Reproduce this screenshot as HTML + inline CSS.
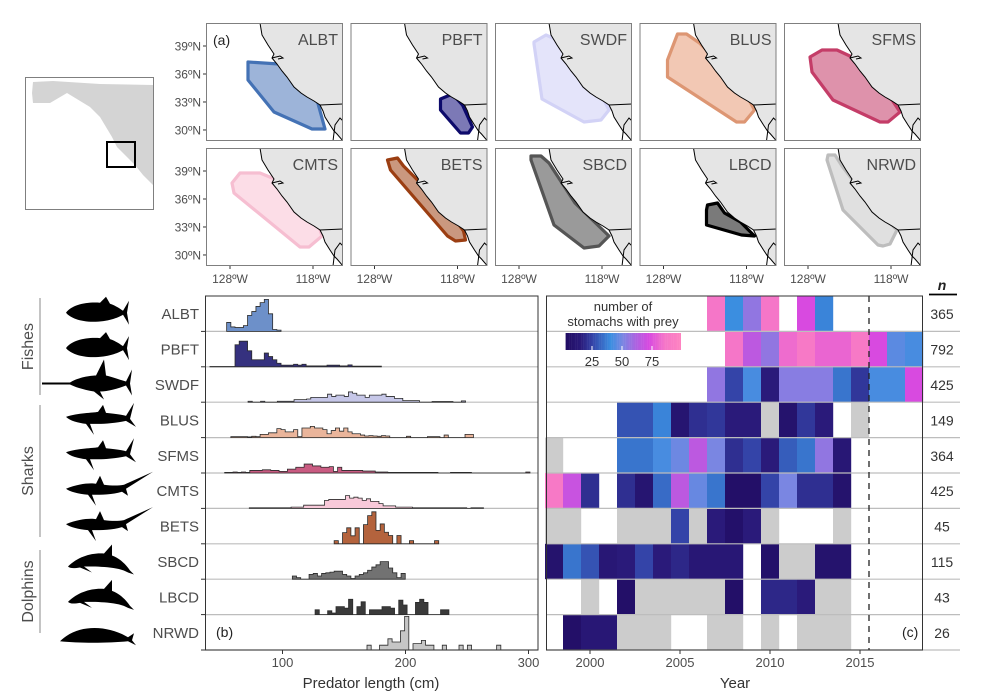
<!DOCTYPE html>
<html><head><meta charset="utf-8"><style>
body{margin:0;background:#fff}
svg{display:block;font-family:"Liberation Sans",Arial,sans-serif}
</style></head><body>
<svg id="fig" width="1000" height="699" viewBox="0 0 1000 699" xmlns="http://www.w3.org/2000/svg">
<defs id="defs"></defs>
<g id="maps"></g>
<g id="left"></g>
<g id="hist"></g>
<g id="heat"></g>
</svg>
<script>
// ---------- data ----------
const species = ['ALBT','PBFT','SWDF','BLUS','SFMS','CMTS','BETS','SBCD','LBCD','NRWD'];
const sampleN = [365,792,425,149,364,425,45,115,43,26];
const years = [1998,1999,2000,2001,2002,2003,2004,2005,2006,2007,2008,2009,2010,2011,2012,2013,2014,2015,2016,2017,2018];
const yearTicks = [2000,2005,2010,2015];
const lengthTicks = [100,200,300];
const legendTicks = [25,50,75];
const N = null, G = -1;
const heatALBT = [N,N,N,N,N,N,N,N,N,85,40,55,85,N,72,38,N,N,N,N,N];
const heatPBFT = [N,N,N,N,N,N,N,N,N,N,85,65,55,82,88,80,80,88,72,45,42];
const heatSWDF = [N,N,N,N,N,N,N,N,N,55,25,42,15,53,53,53,35,22,42,42,72];
const heatBLUS = [N,N,N,N,28,28,38,10,20,22,15,15,G,8,22,15,N,G,N,N,N];
const heatSFMS = [G,N,N,N,35,35,42,48,65,50,20,25,15,30,35,55,12,N,N,N,N];
const heatCMTS = [88,68,20,N,20,10,33,65,47,35,5,5,25,50,20,20,8,N,N,N,N];
const heatBETS = [G,G,N,N,G,G,G,25,G,15,6,15,G,N,N,N,G,N,N,N,N];
const heatSBCD = [8,35,28,12,15,25,15,18,12,12,12,N,6,G,G,8,8,N,N,N,N];
const heatLBCD = [N,N,G,N,5,G,G,G,G,G,5,N,18,18,15,G,G,N,N,N,N];
const heatNRWD = [N,5,12,12,G,G,G,N,N,G,G,N,G,N,G,G,G,N,N,N,N];
const heatRows = [heatALBT,heatPBFT,heatSWDF,heatBLUS,heatSFMS,heatCMTS,heatBETS,heatSBCD,heatLBCD,heatNRWD];
const binWidth = 3.4;
const histStart = [54.6,41,72,58,53,73,142,108,126.5,168.7];
const histALBT = [28,14,12,12,18,50,62,78,90,100,55,6,4];
const histPBFT = [1,1,1,1,1,1,69,80,80,50,22,22,22,43,32,22,11,5,5,5,8,5,8,3,3,3,3,3,5,5,5,3,3,6,2,2,2,2,2,2,2];
const histSWDF = [3,0,0,3,0,0,0,3,3,3,3,8,8,8,10,15,15,15,15,25,18,22,22,18,32,28,22,22,15,22,22,22,25,18,18,12,12,5,5,5,5,0,0,0,2,2,2,2,2,0,0,4];
const histBLUS = [3,3,3,3,2,4,3,10,10,15,15,28,25,18,18,25,3,30,30,35,30,30,25,12,22,30,20,30,18,12,12,8,5,6,5,4,6,5,0,0,0,0,4,0,0,0,0,3,3,3,0,8,0,0,0,0,10,10];
const histSFMS = [2,2,3,2,3,2,8,8,8,10,10,8,8,5,5,12,12,18,18,28,28,22,22,18,18,20,5,18,8,8,8,8,8,6,6,6,3,3,3,2,2,2,2,2,2,2,2,2,2,2,2,0,0,0,2,2,2,2,2,0,0,0,0,0,0,0,0,0,0,0,0,0,3];
const histCMTS = [2,2,2,2,2,2,2,2,2,2,4,4,4,10,10,10,10,10,25,28,28,28,28,40,32,35,32,25,30,22,22,15,8,8,8,4,4,4,4,2,2,2,2,2,2,2,2,2,2,2,2,2,0,2,2,2];
const histBETS = [10,0,35,50,25,50,0,60,88,100,42,62,36,26,0,26,0,0,10,0,0,0,0,0,10];
const histSBCD = [10,5,0,0,15,18,10,18,20,22,25,25,15,10,2,10,15,20,28,38,45,55,55,35,20,5,18];
const histLBCD = [15,0,0,12,5,25,25,20,48,0,25,40,0,15,15,15,25,25,20,0,45,30,0,0,38,48,38,0,0,0,15,15];
const histNRWD = [15,0,0,15,15,35,25,25,60,105,0,20,20,30,15,15,0,0,15,0,0,0,15,0,15,0,0,0,0,0,0,15];
const histRows = [histALBT,histPBFT,histSWDF,histBLUS,histSFMS,histCMTS,histBETS,histSBCD,histLBCD,histNRWD];

// ---------- styling ----------
const histFill = ['#6d90c9','#35317f','#c6c7e8','#eab59b','#c95b81','#f8c9d9','#b4633d','#727272','#3a3a3a','#c6c6c6'];
const mapFill = ['#9db4d9','#7c79b6','#e4e4fa','#f2c8b4','#de92ab','#fcdde7','#ca987f','#9a9a9a','#7a7a7a','#e0e0e0'];
const mapStroke = ['#4472b5','#0d0a6b','#d2d2f6','#dd9673','#c43d68','#f6bed1','#9b3e12','#555555','#000000','#bdbdbd'];
const NS='http://www.w3.org/2000/svg';
function mk(tag, attrs, parent){const e=document.createElementNS(NS,tag);for(const k in attrs)e.setAttribute(k,attrs[k]);(parent||document.getElementById('fig')).appendChild(e);return e;}
function txt(parent,x,y,s,size,anchor,fill){const t=mk('text',{x:x,y:y,'font-size':size,'text-anchor':anchor||'middle',fill:fill||'#4d4d4d'},parent);t.textContent=s;return t;}

// ---------- maps ----------
const maps=document.getElementById('maps');
const defs=document.getElementById('defs');
const coast=[[54,0],[56,12],[62,22],[68,31],[66,35],[71,41],[76,48],[81,54],[88,64],[95,70],[101,74],[108,78],[114,82],[117,88],[119,94],[124,102],[128,108],[131,111],[137,118]];
const polys=[
[[42,39],[73,41],[111,77],[119,106],[106,106],[68,89],[42,57]],
[[90,76],[102,71],[112,82],[122,104],[118,110],[110,110],[90,87]],
[[39,19],[51,12],[60,16],[100,60],[114,87],[106,97],[89,99],[47,76],[39,21]],
[[38,11],[47,11],[60,20],[100,60],[115,87],[105,99],[97,99],[28,54],[28,37]],
[[26,34],[38,27],[53,27],[68,34],[100,65],[116,89],[104,99],[96,99],[49,77],[28,49]],
[[26,35],[34,25],[54,25],[71,32],[88,48],[111,72],[116,88],[103,99],[94,99],[28,45]],
[[37,12],[47,10],[53,18],[73,38],[100,65],[113,83],[115,92],[105,93],[97,88],[40,22]],
[[36,8],[46,8],[54,15],[80,55],[114,88],[104,98],[89,100],[59,77],[36,12]],
[[68,57],[78,55],[85,65],[101,74],[115,88],[102,87],[67,77],[67,62]],
[[44,7],[51,7],[58,18],[90,60],[113,82],[106,96],[99,98],[94,97],[59,62],[43,12]]];
const cp=mk('clipPath',{id:'mclip'},defs);
mk('rect',{x:0,y:0,width:137,height:118},cp);
const coastStr=coast.map(p=>p.join(',')).join(' ');
species.forEach((sp,i)=>{
  const c=i%5,r=Math.floor(i/5);
  const px=206+c*144.5, py=23+r*125;
  const g=mk('g',{transform:`translate(${px},${py})`},maps);
  
  
  const inner=mk('g',{'clip-path':'url(#mclip)'},g);
  mk('rect',{x:0,y:0,width:137,height:118,fill:'#fff'},inner);
  const pg=mk('polygon',{points:polys[i].map(p=>p.join(',')).join(' '),fill:mapFill[i],stroke:mapStroke[i],'stroke-width':3.2,'stroke-linejoin':'round'},inner);
  
  
  const land=mk('polygon',{points:coastStr+' 137,118 137,0',fill:'#e5e5e5',stroke:'none'},inner);
  
  
  mk('polyline',{points:coastStr,fill:'none',stroke:'#000','stroke-width':1},inner);
  mk('polyline',{points:'114,82 137,81',fill:'none',stroke:'#000','stroke-width':1},inner);
  mk('polyline',{points:'127,118 129,102 134,95 137,98',fill:'none',stroke:'#000','stroke-width':1},inner);
  mk('polyline',{points:'66,35 74,33 77,35 72,36',fill:'none',stroke:'#000','stroke-width':1},inner);
  mk('rect',{x:0.5,y:0.5,width:136,height:117,fill:'none',stroke:'#7f7f7f','stroke-width':1},g);
  const lab=txt(g,132,22,sp,16,'end','#4d4d4d');
  
  
  if(c===0){
    [39,36,33,30].forEach(lat=>{const y=23+(39-lat)*9.33;mk('line',{x1:-3,x2:0,y1:y,y2:y,stroke:'#333'},g);const t=txt(g,-5,y+4.5,lat+'ºN',12,'end');});
  }
  if(r===1){
    [[128,24],[118,107]].forEach(([lon,x])=>{mk('line',{x1:x,x2:x,y1:118,y2:121,stroke:'#333'},g);const t=txt(g,x,135,lon+'ºW',12,'middle');});
  }
});
const pa=txt(maps,213,45,'(a)',14,'start','#222');


// inset
const inset=mk('g',{},maps);


mk('rect',{x:25.5,y:77.5,width:128,height:132,fill:'#fff',stroke:'#7f7f7f'},inset);
mk('polygon',{points:'33,82 53,81 100,84 153,85 153,185 143,175 135,165 117,147 112,137 100,117 90,107 67,93 50,103 33,103 32,93',fill:'#d4d4d4'},inset);
mk('rect',{x:107,y:142,width:28,height:25,fill:'none',stroke:'#000','stroke-width':2},inset);

// ---------- rows / left labels ----------
const rowTop=296,rowH=35.4;
const left=document.getElementById('left');
const icons={
tuna:'M-32,0 C-26,-8 -12,-11 2,-10 L8,-16 L12,-9 C18,-7 22,-4 25,-2 L31,-12 L29,0 L31,12 L25,2 C20,5 10,9 -5,9 C-18,9 -28,5 -32,0 Z',
sword:'M-58,-1 L-30,-1 C-22,-6 -10,-8 -4,-8 L4,-24 L6,-8 C14,-6 22,-3 26,-2 L32,-14 L30,0 L32,12 L26,2 C18,5 8,8 0,8 L4,16 L-6,8 C-18,6 -26,3 -30,1 L-58,1 Z',
shark:'M-32,-2 C-20,-6 -5,-6 0,-7 L5,-14 L8,-6 C18,-5 25,-4 28,-3 L36,-16 L32,0 L38,8 L28,2 C18,4 8,5 0,5 L-8,5 L-4,16 L-12,5 C-20,4 -28,2 -32,-2 Z',
thresh:'M-32,-1 C-20,-6 -8,-7 -2,-6 L2,-14 L6,-5 C14,-4 20,-4 26,-5 L55,-18 L28,-1 L30,6 L24,2 C14,5 4,5 -6,5 L-2,16 L-10,5 C-20,4 -28,2 -32,-1 Z',
dolph:'M-30,6 C-20,-4 -6,-8 6,-7 L14,-16 L14,-5 C22,-2 28,4 32,10 L36,14 L30,12 C20,6 0,6 -14,6 L-6,12 L-18,7 C-24,8 -28,8 -30,6 Z',
whale:'M-38,10 C-20,-8 10,-6 30,6 L36,2 L34,9 L38,14 L30,10 C10,12 -20,12 -38,10 Z'};
const iconOf=['tuna','tuna','sword','shark','shark','thresh','thresh','dolph','dolph','whale'];
species.forEach((sp,i)=>{
  const cy=rowTop+rowH*(i+0.5);
  const p=mk('path',{d:icons[iconOf[i]],fill:'#000',transform:`translate(${i===2?100:98},${cy-1})`},left);
  
  
  const t=txt(left,199,cy+5.5,sp,15,'end','#4d4d4d');
  
  
  mk('line',{x1:201,x2:205,y1:rowTop+rowH*(i+1),y2:rowTop+rowH*(i+1),stroke:'#333'},left);
});
[['Fishes',298,395],['Sharks',405,537],['Dolphins',550,633]].forEach(([s,a,b])=>{
  mk('line',{x1:40,x2:40,y1:a,y2:b,stroke:'#888','stroke-width':1},left);
  const t=mk('text',{x:0,y:0,'font-size':16,'text-anchor':'middle',fill:'#4d4d4d',transform:`translate(33,${(a+b)/2}) rotate(-90)`},left);
  t.textContent=s;
  
  
});

// ---------- histograms ----------
const hist=document.getElementById('hist');
const xL=cm=>159.5+cm*1.23;
const hScale=0.32;
mk('rect',{x:205,y:rowTop,width:333,height:rowH*10,fill:'#fff'},hist);
for(let i=1;i<=10;i++){const y=rowTop+rowH*i;mk('line',{x1:205,x2:538,y1:y,y2:y,stroke:'#bdbdbd','stroke-width':1.2},hist);}
histRows.forEach((vals,i)=>{
  const base=rowTop+rowH*(i+1);
  let d=`M${xL(histStart[i])},${base}`;
  vals.forEach((v,k)=>{const x0=xL(histStart[i]+k*binWidth),x1=xL(histStart[i]+(k+1)*binWidth),y=base-v*hScale;d+=` L${x0},${y} L${x1},${y}`;});
  d+=` L${xL(histStart[i]+vals.length*binWidth)},${base} Z`;
  const p=mk('path',{d:d,fill:histFill[i],stroke:'#2b2b2b','stroke-width':0.8,'stroke-linejoin':'miter'},hist);
  
  
});
mk('rect',{x:205.5,y:rowTop,width:332.5,height:rowH*10,fill:'none',stroke:'#333','stroke-width':1},hist);
lengthTicks.forEach(v=>{const x=xL(v);mk('line',{x1:x,x2:x,y1:650,y2:654,stroke:'#333'},hist);const t=txt(hist,x,667,String(v),13,'middle');});
const xt=txt(hist,371,688,'Predator length (cm)',15,'middle','#333');


const pb=txt(hist,216,637,'(b)',14,'start','#222');



// ---------- heatmap ----------
const heat=document.getElementById('heat');
const xY=y=>590+(y-2000)*18;
const stops=[[0,[31,10,95]],[15,[42,26,122]],[25,[52,68,168]],[40,[59,142,224]],[50,[122,134,226]],[62,[176,96,224]],[72,[216,74,224]],[85,[245,118,200]],[100,[255,133,192]]];
function col(v){for(let k=1;k<stops.length;k++){if(v<=stops[k][0]){const[a,ca]=stops[k-1],[b,cb]=stops[k];const t=(v-a)/(b-a);return 'rgb('+ca.map((c,j)=>Math.round(c+(cb[j]-c)*t)).join(',')+')';}}return 'rgb(255,133,192)';}
mk('rect',{x:546,y:rowTop,width:377,height:rowH*10,fill:'#fff'},heat);
heatRows.forEach((row,i)=>{
  row.forEach((v,k)=>{
    if(v===null)return;
    const r=mk('rect',{x:xY(years[k]-0.5),y:rowTop+rowH*i,width:18.2,height:rowH,fill:v<0?'#cccccc':col(v)},heat);
    
    
  });
});
for(let i=1;i<=10;i++){const y=rowTop+rowH*i;mk('line',{x1:546,x2:960,y1:y,y2:y,stroke:'#bdbdbd','stroke-width':1.2},heat);}
mk('line',{x1:xY(2015.5),x2:xY(2015.5),y1:rowTop,y2:650,stroke:'#222','stroke-width':1.3,'stroke-dasharray':'6,5'},heat);
mk('rect',{x:546.5,y:rowTop,width:376,height:rowH*10,fill:'none',stroke:'#333','stroke-width':1},heat);
yearTicks.forEach(v=>{const x=xY(v);mk('line',{x1:x,x2:x,y1:650,y2:654,stroke:'#333'},heat);const t=txt(heat,x,667,String(v),13,'middle');});
const yt=txt(heat,735,688,'Year',15,'middle','#333');


const pc=txt(heat,902,637,'(c)',14,'start','#222');


// legend
const lg=mk('g',{},heat);


txt(lg,623,311,'number of',13,'middle','#333');
txt(lg,623,326,'stomachs with prey',13,'middle','#333');
const lx=v=>562+v*1.2;
for(let v=3;v<99;v+=1){mk('rect',{x:lx(v),y:333,width:1.4,height:17,fill:col(v)},lg);}
legendTicks.forEach(v=>{mk('line',{x1:lx(v),x2:lx(v),y1:346,y2:350,stroke:'#fff'},lg);txt(lg,lx(v),366,String(v),13,'middle','#333');});
// n column
const nh=mk('text',{x:942,y:290,'font-size':14,'text-anchor':'middle','font-style':'italic','font-weight':'bold',fill:'#222'},heat);
nh.textContent='n';


mk('line',{x1:929,x2:957,y1:294.5,y2:294.5,stroke:'#000','stroke-width':1.8},heat);
sampleN.forEach((n,i)=>{const t=txt(heat,942,rowTop+rowH*(i+0.5)+5.5,String(n),14,'middle','#333');});
</script>
</body></html>
